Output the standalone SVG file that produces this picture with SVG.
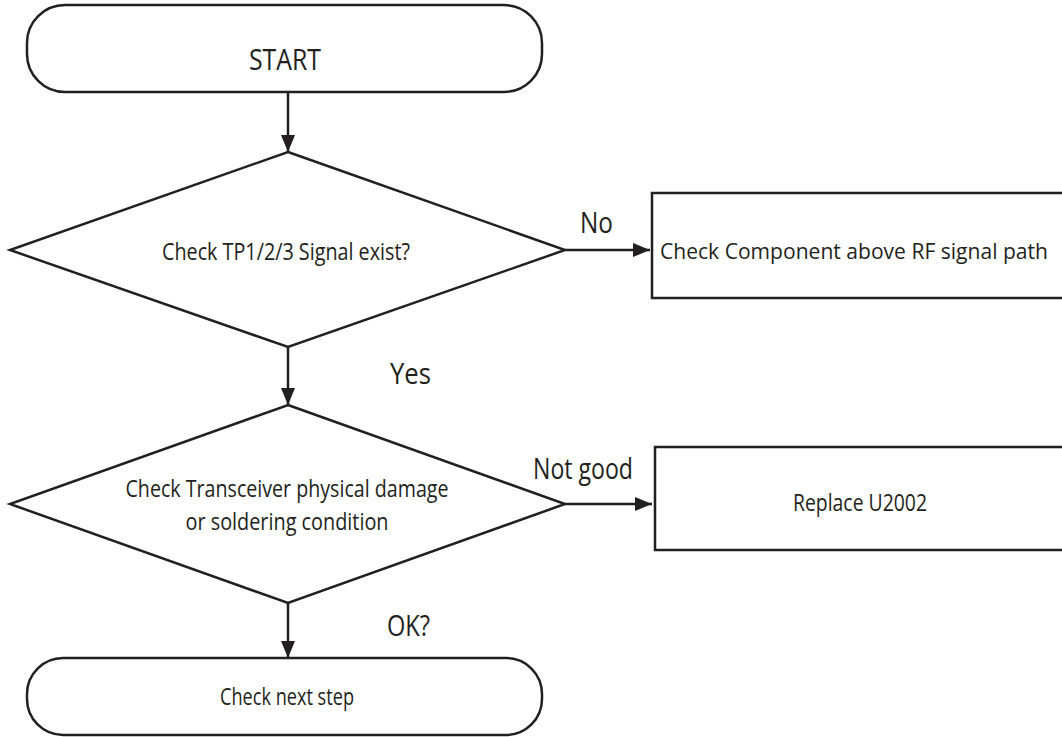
<svg xmlns="http://www.w3.org/2000/svg" width="1062" height="737" viewBox="0 0 1062 737">
<style>
.shape{fill:#fff;stroke:#231f20;stroke-width:2.5}
.conn{stroke:#231f20;stroke-width:2.5;fill:none}
text{font-family:"Open Sans","Liberation Sans",sans-serif;fill:#231f20}
.big{font-size:29px}
.mid{font-size:23px}
.box1{font-size:21px}
</style>
<defs>
<marker id="arr" markerWidth="18" markerHeight="14" refX="17" refY="7" orient="auto" markerUnits="userSpaceOnUse">
<path d="M0,0 L17,7 L0,14 Z" fill="#231f20"/>
</marker>
</defs>
<rect width="1062" height="737" fill="#fff"/>
<g id="start">
<rect class="shape" x="27" y="5" width="515" height="87" rx="38" ry="38"/>
<text class="big" x="285" y="70" text-anchor="middle" textLength="72" lengthAdjust="spacingAndGlyphs">START</text>
</g>
<g id="check-tp">
<polygon class="shape" points="288,152 565,250 288,347 10,250"/>
<text class="mid" x="286" y="260" text-anchor="middle" textLength="248" lengthAdjust="spacingAndGlyphs">Check TP1/2/3 Signal exist?</text>
</g>
<g id="check-component">
<rect class="shape" x="652" y="193" width="430" height="105"/>
<text class="box1" x="660" y="259" textLength="388" lengthAdjust="spacingAndGlyphs">Check Component above RF signal path</text>
</g>
<g id="check-transceiver">
<polygon class="shape" points="288,405 565,504 288,603 10,504"/>
<text class="mid" x="287" y="497" text-anchor="middle" textLength="323" lengthAdjust="spacingAndGlyphs">Check Transceiver physical damage</text>
<text class="mid" x="287" y="530" text-anchor="middle" textLength="203" lengthAdjust="spacingAndGlyphs">or soldering condition</text>
</g>
<g id="replace">
<rect class="shape" x="655" y="447" width="430" height="103"/>
<text class="mid" x="860" y="511" text-anchor="middle" textLength="134" lengthAdjust="spacingAndGlyphs">Replace U2002</text>
</g>
<g id="next-step">
<rect class="shape" x="27" y="658" width="515" height="77" rx="36" ry="36"/>
<text class="mid" x="287" y="705" text-anchor="middle" textLength="134" lengthAdjust="spacingAndGlyphs">Check next step</text>
</g>
<g id="connectors">
<line class="conn" x1="288" y1="92" x2="288" y2="152" marker-end="url(#arr)"/>
<line class="conn" x1="565" y1="250" x2="650" y2="250" marker-end="url(#arr)"/>
<line class="conn" x1="288" y1="347" x2="288" y2="405" marker-end="url(#arr)"/>
<line class="conn" x1="565" y1="504" x2="652" y2="504" marker-end="url(#arr)"/>
<line class="conn" x1="288" y1="603" x2="288" y2="658" marker-end="url(#arr)"/>
<text class="big" x="580" y="233" textLength="33" lengthAdjust="spacingAndGlyphs">No</text>
<text class="big" x="390" y="384" textLength="41" lengthAdjust="spacingAndGlyphs">Yes</text>
<text class="big" x="533" y="479" textLength="100" lengthAdjust="spacingAndGlyphs">Not good</text>
<text class="big" x="387" y="636" textLength="43" lengthAdjust="spacingAndGlyphs">OK?</text>
</g>
</svg>
